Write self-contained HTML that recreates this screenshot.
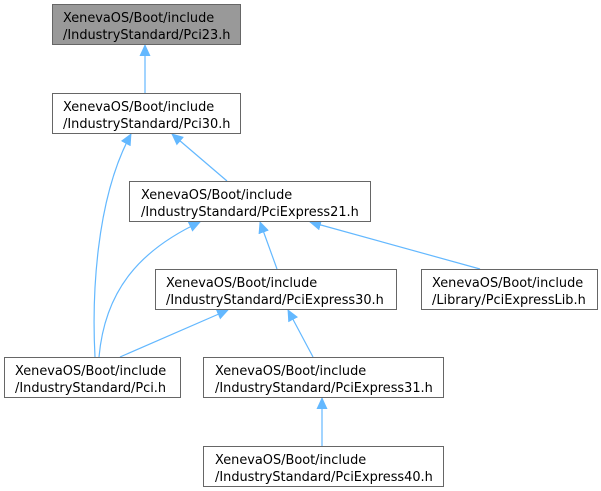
<!DOCTYPE html>
<html><head><style>
body{margin:0;background:#fff;}
svg{display:block;}
text{font-family:"DejaVu Sans","Liberation Sans",sans-serif;font-size:12.9px;fill:#000;}
</style></head><body>
<svg width="601" height="491" viewBox="0 0 601 491">
<defs><marker id="a" markerWidth="12" markerHeight="12" refX="11" refY="6" orient="auto" markerUnits="userSpaceOnUse"><path d="M0,0.5 L12,6 L0,11.5 Z" fill="#63b8ff"/></marker></defs>
<g fill="none" stroke="#63b8ff" stroke-width="1.2" marker-end="url(#a)">
<path d="M145,93 L145,45"/>
<path d="M227,181 L172,134"/>
<path d="M95,357 C92,300 95,200 131,134"/>
<path d="M99,357 C105,290 140,250 200,222"/>
<path d="M277,269 L260,222"/>
<path d="M480,269 L310,222"/>
<path d="M120,357 L228,310"/>
<path d="M313,357 L288,310"/>
<path d="M322,446 L322,398"/>
</g>
<g stroke="#666" stroke-width="1">
<rect x="52.5" y="4.5" width="188" height="40" fill="#999"/>
<rect x="52.5" y="93.5" width="188" height="40" fill="#fff"/>
<rect x="129.5" y="181.5" width="241" height="40" fill="#fff"/>
<rect x="155.5" y="269.5" width="241" height="40" fill="#fff"/>
<rect x="421.5" y="269.5" width="176" height="40" fill="#fff"/>
<rect x="4.5" y="357.5" width="176" height="40" fill="#fff"/>
<rect x="203.5" y="357.5" width="240" height="40" fill="#fff"/>
<rect x="203.5" y="446.5" width="240" height="40" fill="#fff"/>
</g>
<text x="63" y="22">XenevaOS/Boot/include</text><text x="63" y="39">/IndustryStandard/Pci23.h</text>
<text x="63" y="111">XenevaOS/Boot/include</text><text x="63" y="128">/IndustryStandard/Pci30.h</text>
<text x="141" y="199">XenevaOS/Boot/include</text><text x="141" y="216">/IndustryStandard/PciExpress21.h</text>
<text x="166" y="287">XenevaOS/Boot/include</text><text x="166" y="304">/IndustryStandard/PciExpress30.h</text>
<text x="432" y="287">XenevaOS/Boot/include</text><text x="432" y="304">/Library/PciExpressLib.h</text>
<text x="15" y="375">XenevaOS/Boot/include</text><text x="15" y="392">/IndustryStandard/Pci.h</text>
<text x="215" y="375">XenevaOS/Boot/include</text><text x="215" y="392">/IndustryStandard/PciExpress31.h</text>
<text x="215" y="464">XenevaOS/Boot/include</text><text x="215" y="481">/IndustryStandard/PciExpress40.h</text>
</svg>
</body></html>
